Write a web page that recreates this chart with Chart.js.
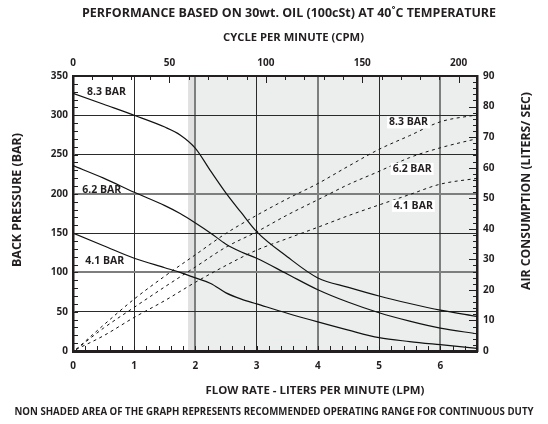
<!DOCTYPE html>
<html>
<head>
<meta charset="utf-8">
<script src="https://cdn.jsdelivr.net/npm/chart.js@4.4.1/dist/chart.umd.min.js"></script>
<style>
html,body{margin:0;padding:0;background:#fff;}
#wrap{width:548px;height:424px;position:relative;}
canvas{display:block;}
</style>
</head>
<body>
<div id="wrap"><canvas id="c" width="548" height="424"></canvas></div>
<script>
// ---------- data ----------
const seriesNames = ['8.3 BAR', '6.2 BAR', '4.1 BAR'];

// back pressure (BAR, left axis) vs flow (LPM)
const flowLPM        = [0, 0.5, 1, 1.5, 1.75, 2, 2.25, 2.5, 2.75, 3, 3.5, 4, 4.5, 5, 5.5, 6, 6.6];
const backPressure83 = [328, 314, 300, 285, 275, 258, 229, 201, 176, 152, 120, 93, 81, 70, 60.5, 52, 44];
const backPressure62 = [236, 220, 202, 185, 175, 163, 150, 136, 126, 118, 98, 78, 62, 48.7, 38, 29, 22];
const backPressure41 = [150, 134, 118, 106, 100, 93, 86, 74, 66, 60, 48, 37, 26.5, 17, 12, 8, 3.4];

// air consumption (LITERS/SEC, right axis) vs flow (LPM)
const airFlowLPM = [0.05, 0.5, 1, 1.5, 2, 2.5, 3, 3.5, 4, 4.5, 5, 5.5, 6, 6.6];
const air83      = [0.5, 8.5, 17, 24.5, 31.5, 38.5, 44.4, 49.8, 54.8, 60.5, 66, 70.5, 75, 77.3];
const air62      = [0.5, 7.5, 14.3, 21, 27.5, 34, 39, 44.5, 49.5, 54.5, 58.8, 63.3, 66.5, 69.5];
const air41      = [0.5, 5, 11, 16.5, 22.5, 28, 33, 36.8, 40.5, 44.3, 47.8, 51.2, 54.6, 56.5];

// tick labels
const lpmTicks      = [0, 1, 2, 3, 4, 5, 6];
const cpmTicks      = [0, 50, 100, 150, 200];
const pressureTicks = [0, 50, 100, 150, 200, 250, 300, 350];
const airTicks      = [0, 10, 20, 30, 40, 50, 60, 70, 80, 90];

// axis ranges
const lpmMax = 6.6, cpmMax = 209.5, pressureMax = 350, airMax = 90;
// the shaded (non-continuous-duty) region begins at this flow (LPM)
const shadedFromLPM = 1.88;

// curve name labels: anchor in data units
const pressureLabels = [
  {text: seriesNames[0], x: 0.23, y: 329},
  {text: seriesNames[1], x: 0.15, y: 205},
  {text: seriesNames[2], x: 0.20, y: 115}
];
const airLabels = [
  {text: seriesNames[0], x: 5.48, y: 74.8},
  {text: seriesNames[1], x: 5.54, y: 59.6},
  {text: seriesNames[2], x: 5.56, y: 47.5}
];

// ---------- styling ----------
const ink = '#231f20';
const FAM = '"Open Sans", sans-serif';
const tickFont = {family: FAM, size: 10, weight: 'bold'};

const pts = (xs, ys) => xs.map((x, i) => ({x: x, y: ys[i]}));
const setTicks = arr => s => { s.ticks = arr.map(v => ({value: v})); };

// grid styling that mimics the printed original (some lines look softer/wider)
const softX = v => v === 2 || v === 4 || v === 6;
const softY = v => v === 100 || v === 200;

const shadePlugin = {
  id: 'shade',
  beforeDraw(chart) {
    const {ctx, chartArea: a, scales: {x}} = chart;
    const x0 = x.getPixelForValue(shadedFromLPM);
    const x2 = x.getPixelForValue(2);
    ctx.save();
    ctx.fillStyle = '#eceeed';
    ctx.fillRect(x0, a.top, a.right - x0, a.bottom - a.top);
    ctx.fillStyle = '#e0e1e0';
    ctx.fillRect(x0, a.top, x2 - x0, a.bottom - a.top);
    ctx.restore();
  }
};

const minorTickSpecs = [
  {scale: 'y', step: 10, len: 5},
  {scale: 'x', step: 0.2, len: 5},
  {scale: 'xTop', step: 10, len: 4},
  {scale: 'xTop', step: 50, len: 7},
  {scale: 'y2', step: 2, len: 4},
  {scale: 'y2', step: 10, len: 8}
];

const innerTicksPlugin = {
  id: 'innerTicks',
  afterDatasetsDraw(chart) {
    const {ctx, chartArea: a} = chart;
    ctx.save();
    ctx.strokeStyle = ink;
    ctx.lineWidth = 1;
    minorTickSpecs.forEach(sp => {
      const s = chart.scales[sp.scale];
      for (let i = 0; ; i++) {
        const v = s.min + i * sp.step;
        if (v > s.max + 1e-9) break;
        const p = Math.round(s.getPixelForValue(v)) + 0.5;
        ctx.beginPath();
        if (s.position === 'left') { ctx.moveTo(a.left, p); ctx.lineTo(a.left + sp.len, p); }
        else if (s.position === 'right') { ctx.moveTo(a.right, p); ctx.lineTo(a.right - sp.len, p); }
        else if (s.position === 'bottom') { ctx.moveTo(p, a.bottom); ctx.lineTo(p, a.bottom - sp.len); }
        else { ctx.moveTo(p, a.top); ctx.lineTo(p, a.top + sp.len); }
        ctx.stroke();
      }
    });
    ctx.restore();
  }
};

const curveLabelPlugin = {
  id: 'curveLabels',
  afterDatasetsDraw(chart) {
    const {ctx, scales: {x, y, y2}} = chart;
    ctx.save();
    ctx.font = 'bold 10.5px ' + FAM;
    ctx.textBaseline = 'middle';
    pressureLabels.forEach(l => {
      ctx.fillStyle = ink;
      ctx.textAlign = 'left';
      ctx.fillText(l.text, x.getPixelForValue(l.x), y.getPixelForValue(l.y));
    });
    airLabels.forEach(l => {
      const px = x.getPixelForValue(l.x), py = y2.getPixelForValue(l.y);
      const w = ctx.measureText(l.text).width;
      ctx.fillStyle = '#ffffff';
      ctx.fillRect(px - w / 2 - 2, py - 6, w + 4, 12);
      ctx.fillStyle = ink;
      ctx.textAlign = 'center';
      ctx.fillText(l.text, px, py);
    });
    ctx.restore();
  }
};

// title texts (layout positions in px)
const titleTexts = [
  {text: 'PERFORMANCE BASED ON 30wt. OIL (100cSt) AT 40\u02DAC TEMPERATURE', x: 289, y: 14, size: 11.5, w: 414, rot: 0},
  {text: 'CYCLE PER MINUTE (CPM)', x: 293.5, y: 38.5, size: 10.5, w: 141, rot: 0},
  {text: 'FLOW RATE - LITERS PER MINUTE (LPM)', x: 315, y: 391, size: 10.5, w: 219, rot: 0},
  {text: 'NON SHADED AREA OF THE GRAPH REPRESENTS RECOMMENDED OPERATING RANGE FOR CONTINUOUS DUTY', x: 274, y: 412, size: 10.5, w: 519, rot: 0},
  {text: 'BACK PRESSURE (BAR)', x: 18, y: 200, size: 11.5, w: 134, rot: -Math.PI / 2},
  {text: 'AIR CONSUMPTION (LITERS/ SEC)', x: 527, y: 191, size: 11.5, w: 198, rot: -Math.PI / 2}
];

const titlePlugin = {
  id: 'titles',
  afterDraw(chart) {
    const ctx = chart.ctx;
    titleTexts.forEach(t => {
      ctx.save();
      ctx.font = 'bold ' + t.size + 'px ' + FAM;
      const mw = ctx.measureText(t.text).width;
      ctx.translate(t.x, t.y);
      if (t.rot) ctx.rotate(t.rot);
      ctx.scale(t.w / mw, 1);
      ctx.fillStyle = ink;
      ctx.textAlign = 'center';
      ctx.textBaseline = 'middle';
      ctx.fillText(t.text, 0, 0);
      ctx.restore();
    });
  }
};

function solid(label, data) {
  return {label, data, xAxisID: 'x', yAxisID: 'y', borderColor: '#111', borderWidth: 1.2,
          pointRadius: 0, fill: false, cubicInterpolationMode: 'monotone'};
}
function dashed(label, data) {
  return {label, data, xAxisID: 'x', yAxisID: 'y2', borderColor: '#111', borderWidth: 1,
          borderDash: [3, 3.5], pointRadius: 0, fill: false, cubicInterpolationMode: 'monotone'};
}

function make() {
  new Chart(document.getElementById('c'), {
    type: 'line',
    data: {
      datasets: [
        solid(seriesNames[0] + ' back pressure', pts(flowLPM, backPressure83)),
        solid(seriesNames[1] + ' back pressure', pts(flowLPM, backPressure62)),
        solid(seriesNames[2] + ' back pressure', pts(flowLPM, backPressure41)),
        dashed(seriesNames[0] + ' air', pts(airFlowLPM, air83)),
        dashed(seriesNames[1] + ' air', pts(airFlowLPM, air62)),
        dashed(seriesNames[2] + ' air', pts(airFlowLPM, air41))
      ]
    },
    options: {
      responsive: false,
      devicePixelRatio: 1,
      animation: false,
      layout: {padding: 0},
      plugins: {legend: {display: false}, tooltip: {enabled: false}, title: {display: false}},
      scales: {
        x: {
          type: 'linear', position: 'bottom', min: 0, max: lpmMax,
          afterBuildTicks: setTicks(lpmTicks),
          afterFit: s => { s.height = 73; },
          grid: {
            color: c => softX(c.tick && c.tick.value) ? '#7d7f7e' : '#2a2a2a',
            lineWidth: c => softX(c.tick && c.tick.value) ? 2 : 1,
            drawTicks: false
          },
          border: {color: ink, width: 3},
          ticks: {font: tickFont, color: ink, padding: 9, maxRotation: 0, autoSkip: false}
        },
        xTop: {
          type: 'linear', position: 'top', min: 0, max: cpmMax,
          afterBuildTicks: setTicks(cpmTicks),
          afterFit: s => { s.height = 76; },
          grid: {drawOnChartArea: false, drawTicks: false},
          border: {color: ink, width: 2},
          ticks: {font: tickFont, color: ink, padding: 7, maxRotation: 0, autoSkip: false}
        },
        y: {
          type: 'linear', position: 'left', min: 0, max: pressureMax,
          afterBuildTicks: setTicks(pressureTicks),
          afterFit: s => { s.width = 73; },
          grid: {
            color: c => softY(c.tick && c.tick.value) ? '#7d7f7e' : '#2a2a2a',
            lineWidth: c => softY(c.tick && c.tick.value) ? 2 : 1,
            drawTicks: false
          },
          border: {color: ink, width: 2.5},
          ticks: {font: tickFont, color: ink, padding: 5, autoSkip: false}
        },
        y2: {
          type: 'linear', position: 'right', min: 0, max: airMax,
          afterBuildTicks: setTicks(airTicks),
          afterFit: s => { s.width = 71; },
          grid: {drawOnChartArea: false, drawTicks: false},
          border: {color: ink, width: 2.5},
          ticks: {font: tickFont, color: ink, padding: 6, autoSkip: false}
        }
      }
    },
    plugins: [shadePlugin, innerTicksPlugin, curveLabelPlugin, titlePlugin]
  });
}

if (document.fonts && document.fonts.load) {
  document.fonts.load('bold 11px "Open Sans"').then(make, make);
} else {
  make();
}
</script>
</body>
</html>
